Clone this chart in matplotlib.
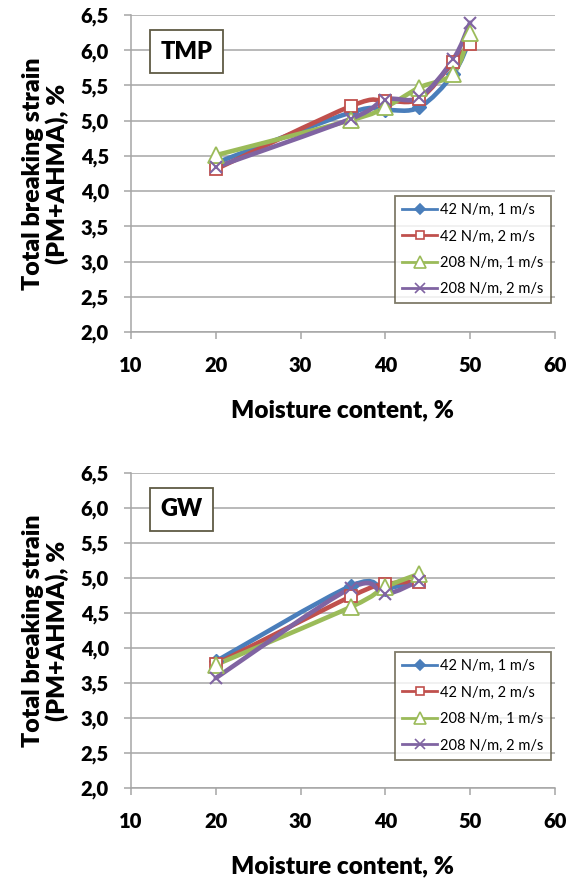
import numpy as np
import matplotlib
matplotlib.use('Agg')
import matplotlib.pyplot as plt
from matplotlib.path import Path
from matplotlib.patches import PathPatch
from matplotlib.lines import Line2D
from matplotlib.ticker import FuncFormatter

plt.rcParams['font.family'] = ['Lato', 'DejaVu Sans']

# data
series_names = ['42 N/m, 1 m/s', '42 N/m, 2 m/s', '208 N/m, 1 m/s', '208 N/m, 2 m/s']

tmp_moisture = [20, 36, 40, 44, 48, 50]
tmp_42_1 = [4.40, 5.12, 5.15, 5.19, 5.66, 6.15]
tmp_42_2 = [4.31, 5.21, 5.28, 5.31, 5.83, 6.09]
tmp_208_1 = [4.51, 5.01, 5.19, 5.47, 5.67, 6.24]
tmp_208_2 = [4.34, 5.03, 5.30, 5.33, 5.87, 6.39]

gw_moisture = [20, 36, 40, 44]
gw_42_1 = [3.81, 4.89, 4.85, 4.97]
gw_42_2 = [3.77, 4.74, 4.91, 4.95]
gw_208_1 = [3.76, 4.59, 4.87, 5.06]
gw_208_2 = [3.57, 4.86, 4.77, 4.96]

colors = ['#4A7EBB', '#C0504D', '#9BBB59', '#8064A2']
markers = ['D', 's', '^', 'x']
msizes = [7, 8, 11, 9]


def smooth_path(x, y):
    # excel-like smoothed line (catmull-rom as cubic bezier)
    pts = np.column_stack([x, y]).astype(float)
    verts = [pts[0]]
    codes = [Path.MOVETO]
    n = len(pts)
    for i in range(n - 1):
        p0 = pts[i - 1] if i > 0 else pts[i]
        p1 = pts[i]
        p2 = pts[i + 1]
        p3 = pts[i + 2] if i + 2 < n else pts[i + 1]
        c1 = p1 + (p2 - p0) / 6.0
        c2 = p2 - (p3 - p1) / 6.0
        verts += [c1, c2, p2]
        codes += [Path.CURVE4] * 3
    return Path(verts, codes)


def draw_panel(ax, xs, ys_list, tag):
    for ys, c, m, ms in zip(ys_list, colors, markers, msizes):
        ax.add_patch(PathPatch(smooth_path(xs, ys), fill=False, edgecolor=c, lw=3.3,
                               capstyle='round', joinstyle='round', zorder=3))
        if m in ('s', '^'):
            ax.plot(xs, ys, ls='none', marker=m, ms=ms, mfc='white', mec=c, mew=1.3, zorder=4)
        elif m == 'x':
            ax.plot(xs, ys, ls='none', marker=m, ms=ms, mec=c, mew=1.5, zorder=4)
        else:
            ax.plot(xs, ys, ls='none', marker=m, ms=ms, mfc=c, mec=c, zorder=4)

    ax.set_xlim(10, 60)
    ax.set_ylim(2.0, 6.5)
    ax.set_xticks(np.arange(10, 61, 10))
    ax.set_yticks(np.arange(2.0, 6.51, 0.5))
    ax.yaxis.set_major_formatter(FuncFormatter(lambda v, p: ('%.1f' % v).replace('.', ',')))
    ax.grid(axis='y', color='#A6A6A6', lw=1.1)
    ax.set_axisbelow(True)
    for s in ['top', 'right']:
        ax.spines[s].set_visible(False)
    for s in ['left', 'bottom']:
        ax.spines[s].set_color('#A6A6A6')
        ax.spines[s].set_linewidth(1.1)
    ax.tick_params(axis='both', colors='#A6A6A6', length=5, width=1.1, labelcolor='black',
                   labelsize=14.5)
    ax.tick_params(axis='x', pad=12)
    ax.tick_params(axis='y', pad=11)
    for t in ax.get_xticklabels() + ax.get_yticklabels():
        t.set_fontweight('heavy')
    ax.set_xlabel('Moisture content, %', fontsize=17.5, fontweight='heavy', labelpad=18)
    ax.set_ylabel('Total breaking strain\n(PM+AHMA), %', fontsize=18, fontweight='heavy',
                  labelpad=8, linespacing=1.1)
    ax.text(0.07, 0.885, tag, transform=ax.transAxes, fontsize=17, fontweight='heavy',
            va='center', ha='left',
            bbox=dict(boxstyle='square,pad=0.45', fc='white', ec='#5F5A44', lw=1.3))

    handles = [Line2D([], [], color=c, lw=2, marker=m, ms=ms * 0.8,
                      mfc=('white' if m in ('s', '^') else c), mec=c, mew=1.2)
               for c, m, ms in zip(colors, markers, msizes)]
    leg = ax.legend(handles, series_names, loc='lower right', bbox_to_anchor=(0.99, 0.09),
                    fontsize=10.5, frameon=True, fancybox=False, edgecolor='#5F5A44',
                    handlelength=2.4, handletextpad=0.2, borderpad=0.5, labelspacing=0.85,
                    borderaxespad=0)
    leg.get_frame().set_linewidth(1.3)


fig = plt.figure(figsize=(5.72, 8.8), dpi=100)
ax1 = fig.add_axes([0.229, 0.6227, 0.741, 0.3602])
ax2 = fig.add_axes([0.229, 0.1045, 0.741, 0.358])

draw_panel(ax1, tmp_moisture, [tmp_42_1, tmp_42_2, tmp_208_1, tmp_208_2], 'TMP')
draw_panel(ax2, gw_moisture, [gw_42_1, gw_42_2, gw_208_1, gw_208_2], 'GW')

fig.savefig('out.png', dpi=100)
